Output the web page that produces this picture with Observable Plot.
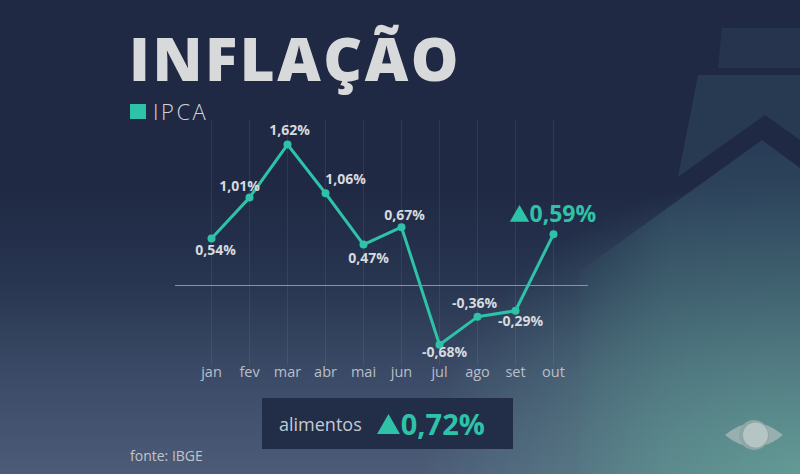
<!DOCTYPE html>
<html>
<head>
<meta charset="utf-8">
<script src="https://cdn.jsdelivr.net/npm/d3@7"></script>
<script src="https://cdn.jsdelivr.net/npm/@observablehq/plot@0.6"></script>
<style>
  html, body { margin: 0; padding: 0; }
  body { width: 800px; height: 474px; overflow: hidden; position: relative; font-family: "Open Sans", sans-serif;
    background:
      radial-gradient(ellipse 380px 300px at 800px 474px, rgba(105,165,155,0.85), rgba(90,150,145,0) 100%),
      linear-gradient(to bottom, #1f2943 0%, #1f2944 40%, #283651 60%, #3a4965 78%, #4c5c78 100%);
  }
  #deco { position: absolute; left: 0; top: 0; }
  #chart { position: absolute; left: 0; top: 0; }
  .title { position: absolute; left: 129px; top: 28px; font-size: 60px; font-weight: 800; color: #d8d9db; letter-spacing: 2.5px; line-height: 1; }
  .legend { position: absolute; left: 130px; top: 96px; color: #d0d3d8; font-size: 22px; font-weight: 300; letter-spacing: 2.5px; display: flex; align-items: center; }
  .legend .sw { width: 16px; height: 15px; background: #2ec2a8; margin-right: 7px; }
  .box { position: absolute; left: 262px; top: 398px; width: 251px; height: 51px; background: #222d47; display: flex; align-items: center; }
  .box .lab { color: #c5cad3; font-size: 18px; margin-left: 17px; }
  .box svg { margin-left: 15px; margin-top: 1px; }
  .box .val { color: #2ec2a8; font-size: 29px; font-weight: 700; margin-left: 1px; }
  .source { position: absolute; left: 130px; top: 446px; color: #c0c5cd; font-size: 14px; }
</style>
</head>
<body>
<svg id="deco" width="800" height="474">
  <defs>
    <linearGradient id="lg" x1="0" y1="0" x2="0" y2="1">
      <stop offset="0" stop-color="#2d4560" stop-opacity="0.7"/>
      <stop offset="1" stop-color="#5f9a94" stop-opacity="0.3"/>
    </linearGradient>
    <linearGradient id="fade" x1="0" y1="0" x2="1" y2="0">
      <stop offset="0" stop-color="#fff" stop-opacity="0"/>
      <stop offset="0.45" stop-color="#fff" stop-opacity="1"/>
      <stop offset="1" stop-color="#fff" stop-opacity="1"/>
    </linearGradient>
    <mask id="m" maskUnits="userSpaceOnUse" x="0" y="0" width="800" height="474">
      <rect x="560" y="0" width="240" height="474" fill="url(#fade)"/>
    </mask>
  </defs>
  <polygon points="722,28 800,28 800,68 718,68" fill="#283750" opacity="0.8"/>
  <polygon points="698,75 800,75 800,140 765,115 678,177" fill="#2b3d56" opacity="0.8"/>
  <polygon points="580,271 762,140 800,168 800,474 580,474" fill="url(#lg)" mask="url(#m)"/>
  <g transform="translate(754,435)">
    <path d="M-29,0 Q0,-24 29,0 Q0,24 -29,0 Z" fill="#9fb3b2" opacity="0.9"/>
    <circle r="15" fill="#8fa6a5"/>
    <circle r="12.5" cx="1.5" fill="#b4c5c3"/>
  </g>
</svg>
<div class="title">INFLAÇÃO</div>
<div class="legend"><div class="sw"></div>IPCA</div>
<div id="chart"></div>
<div class="box"><span class="lab">alimentos</span><svg width="23" height="20"><polygon points="11.5,0 23,20 0,20" fill="#2ec2a8"/></svg><span class="val">0,72%</span></div>
<div class="source">fonte: IBGE</div>
<script>
const months = ["jan","fev","mar","abr","mai","jun","jul","ago","set","out"];
const ipca = [0.54, 1.01, 1.62, 1.06, 0.47, 0.67, -0.68, -0.36, -0.29, 0.59];

const data = months.map((m, i) => ({month: m, value: ipca[i]}));
const fmt = v => v.toFixed(2).replace(".", ",") + "%";

// label offsets (layout, not data)
const off = {jan:[4,12], fev:[-10,-11], mar:[2,-14], abr:[20,-14], mai:[5,14], jun:[3,-12], jul:[5,8], ago:[-3,-13], set:[5,11]};

const teal = "#2ec2a8";
const labelMarks = data.slice(0, -1).map(d => Plot.text([d], {
  x: "month", y: "value", text: r => fmt(r.value),
  dx: off[d.month][0], dy: off[d.month][1],
  fill: "#d6d9de", fontSize: 14, fontWeight: 700
}));
const last = data[data.length - 1];

const chart = Plot.plot({
  width: 800, height: 474,
  marginTop: 120, marginBottom: 109, marginLeft: 188, marginRight: 224,
  style: {background: "transparent", fontFamily: "Open Sans, sans-serif", overflow: "visible"},
  x: {type: "point", domain: months, padding: 0.5, label: null},
  y: {domain: [-0.919, 1.896], axis: null},
  marks: [
    Plot.gridX(months, {stroke: "#ffffff", strokeOpacity: 0.07, strokeWidth: 1}),
    Plot.ruleY([0], {stroke: "#8a94a6", strokeWidth: 1, insetLeft: -13, insetRight: -12}),
    Plot.axisX({tickSize: 0, tickPadding: 1, fontSize: 14.5, color: "#b9bfc9", label: null}),
    Plot.line(data, {x: "month", y: "value", stroke: teal, strokeWidth: 3, curve: "linear"}),
    Plot.dot(data, {x: "month", y: "value", fill: teal, r: 4}),
    ...labelMarks,
    Plot.dot([last], {x: "month", y: "value", symbol: "triangle", r: 7.2, fill: teal, stroke: "none", dx: -34, dy: -18}),
    Plot.text([last], {x: "month", y: "value", text: r => fmt(r.value), textAnchor: "start", dx: -24, dy: -20, fill: teal, fontSize: 23, fontWeight: 700})
  ]
});
document.getElementById("chart").appendChild(chart);
</script>
</body>
</html>
